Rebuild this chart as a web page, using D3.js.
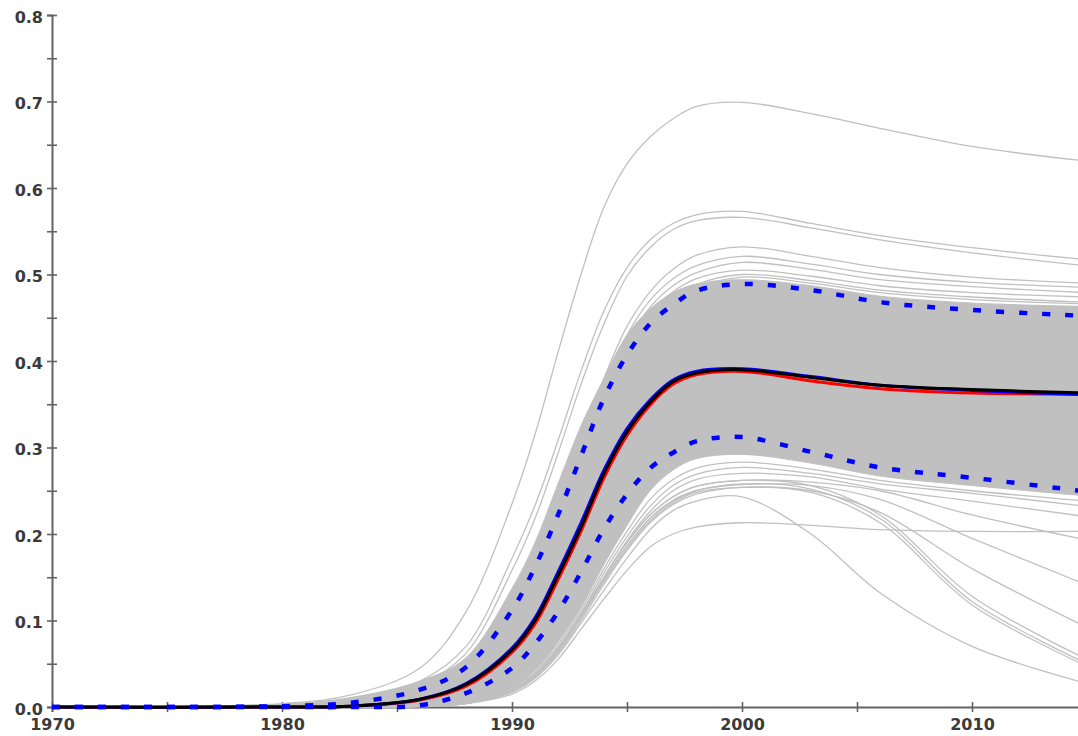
<!DOCTYPE html>
<html>
<head>
<meta charset="utf-8">
<script src="https://cdn.jsdelivr.net/npm/d3@7"></script>
<style>
  html, body { margin: 0; padding: 0; background: #fff; }
  svg { display: block; }
</style>
</head>
<body>
<svg id="chart" width="1078" height="736"></svg>
<script>
// ---------- data ----------
const years = [1970,1980,1983,1986,1988,1990,1991,1992,1993,1994,1995,1996,1997,1998,2000,2003,2006,2010,2015];

const meanLine   = [0,0,0.001,0.009,0.026,0.066,0.100,0.152,0.208,0.270,0.318,0.352,0.376,0.386,0.390,0.381,0.372,0.367,0.363];
const redLine    = [0,0,0.001,0.008,0.024,0.063,0.096,0.147,0.203,0.265,0.314,0.349,0.373,0.384,0.388,0.377,0.368,0.363,0.362];
const medianLine = [0,0,0.001,0.009,0.027,0.068,0.103,0.156,0.213,0.274,0.322,0.355,0.378,0.388,0.391,0.382,0.372,0.366,0.361];
const upperBound = [0,0.001,0.005,0.020,0.046,0.112,0.162,0.222,0.290,0.357,0.407,0.443,0.465,0.481,0.489,0.482,0.468,0.459,0.452];
const lowerBound = [0,0,0,0.002,0.016,0.045,0.073,0.110,0.156,0.206,0.246,0.276,0.294,0.307,0.312,0.295,0.277,0.265,0.249];

// dense part of the ensemble (filled gray band)
const bandTop    = [0,0.003,0.011,0.030,0.057,0.137,0.190,0.258,0.325,0.380,0.430,0.460,0.479,0.489,0.494,0.487,0.475,0.467,0.463];
const bandBottom = [0,0,0,0,0.005,0.022,0.042,0.075,0.115,0.165,0.210,0.250,0.274,0.287,0.292,0.282,0.267,0.256,0.244];

// individual ensemble members visible outside the dense band
const run01 = [0,0.004,0.014,0.045,0.110,0.235,0.315,0.410,0.500,0.578,0.628,0.659,0.680,0.694,0.699,0.686,0.669,0.648,0.631];
const run02 = [0,0.003,0.010,0.030,0.070,0.172,0.233,0.308,0.388,0.458,0.508,0.540,0.559,0.569,0.573,0.559,0.545,0.531,0.517];
const run03 = [0,0.003,0.009,0.026,0.062,0.158,0.218,0.293,0.373,0.443,0.498,0.531,0.552,0.562,0.566,0.554,0.540,0.525,0.510];
const run04 = [0,0.002,0.007,0.020,0.050,0.130,0.180,0.240,0.310,0.380,0.440,0.480,0.506,0.522,0.532,0.521,0.508,0.497,0.490];
const run05 = [0,0.002,0.007,0.019,0.047,0.125,0.175,0.235,0.305,0.372,0.430,0.470,0.495,0.510,0.521,0.512,0.500,0.491,0.485];
const run06 = [0,0.002,0.006,0.018,0.045,0.120,0.170,0.230,0.300,0.365,0.422,0.462,0.487,0.502,0.514,0.506,0.494,0.486,0.479];
const run07 = [0,0.002,0.006,0.017,0.043,0.117,0.166,0.226,0.295,0.360,0.415,0.455,0.480,0.495,0.505,0.498,0.487,0.479,0.474];
const run08 = [0,0.002,0.006,0.016,0.040,0.112,0.160,0.220,0.290,0.352,0.405,0.445,0.470,0.488,0.500,0.493,0.482,0.474,0.468];
const run09 = [0,0.002,0.005,0.015,0.038,0.108,0.156,0.216,0.285,0.346,0.400,0.440,0.466,0.484,0.497,0.490,0.479,0.471,0.466];
const run10 = [0,0,0,0.001,0.005,0.021,0.040,0.072,0.112,0.160,0.203,0.240,0.263,0.276,0.283,0.275,0.262,0.250,0.238];
const run11 = [0,0,0,0.001,0.005,0.020,0.038,0.069,0.108,0.155,0.197,0.232,0.256,0.269,0.277,0.270,0.258,0.247,0.232];
const run12 = [0,0,0,0.001,0.005,0.020,0.037,0.067,0.105,0.150,0.192,0.226,0.250,0.263,0.270,0.266,0.252,0.238,0.220];
const run13 = [0,0,0,0.001,0.005,0.020,0.038,0.068,0.108,0.150,0.190,0.222,0.243,0.255,0.262,0.260,0.250,0.222,0.193];
const run14 = [0,0,0,0.001,0.005,0.019,0.036,0.066,0.105,0.147,0.186,0.218,0.238,0.250,0.257,0.256,0.240,0.195,0.141];
const run15 = [0,0,0,0.001,0.005,0.019,0.035,0.064,0.103,0.145,0.183,0.215,0.236,0.248,0.254,0.250,0.225,0.160,0.092];
const run16 = [0,0,0,0.001,0.005,0.020,0.037,0.067,0.107,0.150,0.190,0.222,0.243,0.255,0.262,0.256,0.222,0.128,0.055];
const run17 = [0,0,0,0.001,0.005,0.019,0.036,0.065,0.104,0.147,0.186,0.218,0.239,0.250,0.258,0.252,0.218,0.122,0.050];
const run18 = [0,0,0,0.001,0.004,0.018,0.034,0.062,0.100,0.142,0.181,0.213,0.234,0.246,0.254,0.248,0.213,0.118,0.047];
const run19 = [0,0,0,0.001,0.004,0.017,0.033,0.060,0.097,0.135,0.172,0.205,0.227,0.238,0.243,0.200,0.132,0.070,0.027];
const run20 = [0,0,0,0.001,0.004,0.015,0.030,0.055,0.090,0.125,0.158,0.185,0.200,0.208,0.213,0.210,0.205,0.203,0.203];
const runs = [run01,run02,run03,run04,run05,run06,run07,run08,run09,run10,
              run11,run12,run13,run14,run15,run16,run17,run18,run19,run20];

const yTicks = [0,0.05,0.1,0.15,0.2,0.25,0.3,0.35,0.4,0.45,0.5,0.55,0.6,0.65,0.7,0.75,0.8];
const xTicks = [1970,1975,1980,1985,1990,1995,2000,2005,2010,2015];

// ---------- drawing ----------
const W = 1078, H = 736;
const svg = d3.select("#chart");
svg.append("rect").attr("width", W).attr("height", H).attr("fill", "#fff");

const x = d3.scaleLinear().domain([1970, 2015]).range([52, 1087]);
const y = d3.scaleLinear().domain([0, 0.8]).range([707, 15]);

const fontFam = "'DejaVu Sans', Verdana, sans-serif";

// axes
const yAxis = d3.axisLeft(y).tickValues(yTicks).tickSizeOuter(0).tickSize(5)
  .tickFormat(d => (Math.round(d * 100) % 10 === 0) ? d.toFixed(1) : "");
const gy = svg.append("g").attr("transform", "translate(52,0)").call(yAxis);
gy.select(".domain").attr("stroke", "#636363").attr("stroke-width", 2);
gy.selectAll(".tick line").attr("x1", -5).attr("x2", 5).attr("stroke", "#636363").attr("stroke-width", 1.6);
gy.selectAll(".tick text").attr("x", -9).attr("dy", "0.45em")
  .attr("font-family", fontFam).attr("font-weight", "bold").attr("font-size", 16).attr("fill", "#3a3a3a");

const xAxis = d3.axisBottom(x).tickValues(xTicks).tickSizeOuter(0).tickSize(5)
  .tickFormat(d => d % 10 === 0 ? String(d) : "");
const gx = svg.append("g").attr("transform", "translate(0,707)").call(xAxis);
gx.select(".domain").attr("stroke", "#636363").attr("stroke-width", 2);
gx.selectAll(".tick line").attr("y1", -5).attr("y2", 5).attr("stroke", "#636363").attr("stroke-width", 1.6);
gx.selectAll(".tick text").attr("y", 12).attr("dy", "0.71em")
  .attr("font-family", fontFam).attr("font-weight", "bold").attr("font-size", 16).attr("fill", "#3a3a3a");

svg.append("defs").append("clipPath").attr("id", "plot")
  .append("rect").attr("x", 0).attr("y", 0).attr("width", W).attr("height", 712);
const plot = svg.append("g").attr("clip-path", "url(#plot)");

const curve = d3.curveCatmullRom.alpha(0.5);
const line = d3.line().x((d, i) => x(years[i])).y(d => y(d)).curve(curve);
const area = d3.area().x((d, i) => x(years[i])).y0((d, i) => y(bandBottom[i])).y1(d => y(d)).curve(curve);

// dense ensemble band
plot.append("path").datum(bandTop).attr("d", area).attr("fill", "#c0c0c0").attr("stroke", "#c0c0c0").attr("stroke-width", 1);

// individual runs
plot.selectAll(".run").data(runs).join("path")
  .attr("class", "run").attr("d", line)
  .attr("fill", "none").attr("stroke", "#c0c0c0").attr("stroke-width", 1.3);

// statistics lines
plot.append("path").datum(redLine).attr("d", line).attr("fill", "none").attr("stroke", "#ff0000").attr("stroke-width", 3);
plot.append("path").datum(medianLine).attr("d", line).attr("fill", "none").attr("stroke", "#0000ff").attr("stroke-width", 3);
plot.append("path").datum(meanLine).attr("d", line).attr("fill", "none").attr("stroke", "#000000").attr("stroke-width", 3);

// confidence bounds (dashed blue)
[upperBound, lowerBound].forEach(arr => {
  plot.append("path").datum(arr).attr("d", line).attr("fill", "none")
    .attr("stroke", "#0000ff").attr("stroke-width", 4.5).attr("stroke-dasharray", "8,15");
});
</script>
</body>
</html>
